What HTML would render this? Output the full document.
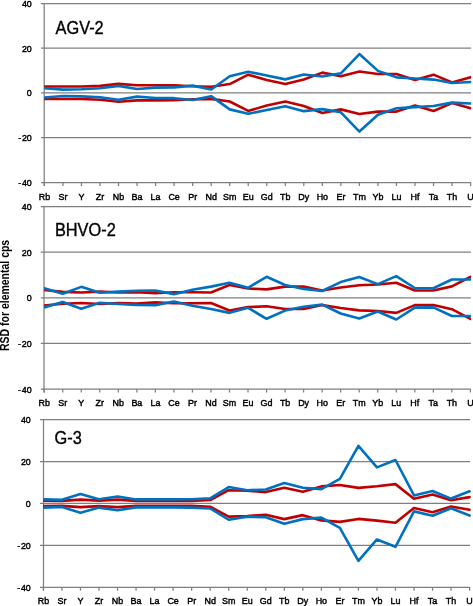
<!DOCTYPE html>
<html><head><meta charset="utf-8"><style>
html,body{margin:0;padding:0;background:#fff;}
body{width:473px;height:606px;overflow:hidden;}
svg{display:block;will-change:transform;}
text{font-family:"Liberation Sans",sans-serif;fill:#000;}
.yl{font-size:9.9px;text-anchor:end;stroke:#000;stroke-width:0.45px;}
.xl{font-size:9.6px;text-anchor:middle;stroke:#000;stroke-width:0.45px;}
.tt{font-size:17.6px;stroke:#000;stroke-width:0.35px;}
.ax{font-size:12.2px;font-weight:bold;}
</style></head><body>
<svg width="473" height="606" viewBox="0 0 473 606">
<rect width="473" height="606" fill="#fff"/>
<line x1="41.00" y1="3.50" x2="471.09" y2="3.50" stroke="#7f7f7f" stroke-width="1.25"/>
<text transform="translate(31.80,6.95) scale(0.9,1)" class="yl">40</text>
<line x1="41.00" y1="48.10" x2="471.09" y2="48.10" stroke="#7f7f7f" stroke-width="1.25"/>
<text transform="translate(31.80,51.55) scale(0.9,1)" class="yl">20</text>
<line x1="41.00" y1="92.80" x2="471.09" y2="92.80" stroke="#7f7f7f" stroke-width="1.25"/>
<text transform="translate(31.80,96.25) scale(0.9,1)" class="yl">0</text>
<line x1="41.00" y1="137.50" x2="471.09" y2="137.50" stroke="#7f7f7f" stroke-width="1.25"/>
<text transform="translate(31.80,140.95) scale(0.9,1)" class="yl">-<tspan dx="0.9">20</tspan></text>
<line x1="41.00" y1="182.60" x2="471.09" y2="182.60" stroke="#7f7f7f" stroke-width="1.25"/>
<text transform="translate(31.80,186.05) scale(0.9,1)" class="yl">-<tspan dx="0.9">40</tspan></text>
<line x1="44.20" y1="2.90" x2="44.20" y2="186.00" stroke="#7f7f7f" stroke-width="1.25"/>
<line x1="44.40" y1="182.60" x2="44.40" y2="186.00" stroke="#7f7f7f" stroke-width="1.25"/>
<text transform="translate(44.40,199.60) scale(0.93,1)" class="xl">Rb</text>
<line x1="62.93" y1="182.60" x2="62.93" y2="186.00" stroke="#7f7f7f" stroke-width="1.25"/>
<text transform="translate(62.93,199.60) scale(0.93,1)" class="xl">Sr</text>
<line x1="81.46" y1="182.60" x2="81.46" y2="186.00" stroke="#7f7f7f" stroke-width="1.25"/>
<text transform="translate(81.46,199.60) scale(0.93,1)" class="xl">Y</text>
<line x1="99.99" y1="182.60" x2="99.99" y2="186.00" stroke="#7f7f7f" stroke-width="1.25"/>
<text transform="translate(99.99,199.60) scale(0.93,1)" class="xl">Zr</text>
<line x1="118.52" y1="182.60" x2="118.52" y2="186.00" stroke="#7f7f7f" stroke-width="1.25"/>
<text transform="translate(118.52,199.60) scale(0.93,1)" class="xl">Nb</text>
<line x1="137.05" y1="182.60" x2="137.05" y2="186.00" stroke="#7f7f7f" stroke-width="1.25"/>
<text transform="translate(137.05,199.60) scale(0.93,1)" class="xl">Ba</text>
<line x1="155.58" y1="182.60" x2="155.58" y2="186.00" stroke="#7f7f7f" stroke-width="1.25"/>
<text transform="translate(155.58,199.60) scale(0.93,1)" class="xl">La</text>
<line x1="174.11" y1="182.60" x2="174.11" y2="186.00" stroke="#7f7f7f" stroke-width="1.25"/>
<text transform="translate(174.11,199.60) scale(0.93,1)" class="xl">Ce</text>
<line x1="192.64" y1="182.60" x2="192.64" y2="186.00" stroke="#7f7f7f" stroke-width="1.25"/>
<text transform="translate(192.64,199.60) scale(0.93,1)" class="xl">Pr</text>
<line x1="211.17" y1="182.60" x2="211.17" y2="186.00" stroke="#7f7f7f" stroke-width="1.25"/>
<text transform="translate(211.17,199.60) scale(0.93,1)" class="xl">Nd</text>
<line x1="229.70" y1="182.60" x2="229.70" y2="186.00" stroke="#7f7f7f" stroke-width="1.25"/>
<text transform="translate(229.70,199.60) scale(0.93,1)" class="xl">Sm</text>
<line x1="248.23" y1="182.60" x2="248.23" y2="186.00" stroke="#7f7f7f" stroke-width="1.25"/>
<text transform="translate(248.23,199.60) scale(0.93,1)" class="xl">Eu</text>
<line x1="266.76" y1="182.60" x2="266.76" y2="186.00" stroke="#7f7f7f" stroke-width="1.25"/>
<text transform="translate(266.76,199.60) scale(0.93,1)" class="xl">Gd</text>
<line x1="285.29" y1="182.60" x2="285.29" y2="186.00" stroke="#7f7f7f" stroke-width="1.25"/>
<text transform="translate(285.29,199.60) scale(0.93,1)" class="xl">Tb</text>
<line x1="303.82" y1="182.60" x2="303.82" y2="186.00" stroke="#7f7f7f" stroke-width="1.25"/>
<text transform="translate(303.82,199.60) scale(0.93,1)" class="xl">Dy</text>
<line x1="322.35" y1="182.60" x2="322.35" y2="186.00" stroke="#7f7f7f" stroke-width="1.25"/>
<text transform="translate(322.35,199.60) scale(0.93,1)" class="xl">Ho</text>
<line x1="340.88" y1="182.60" x2="340.88" y2="186.00" stroke="#7f7f7f" stroke-width="1.25"/>
<text transform="translate(340.88,199.60) scale(0.93,1)" class="xl">Er</text>
<line x1="359.41" y1="182.60" x2="359.41" y2="186.00" stroke="#7f7f7f" stroke-width="1.25"/>
<text transform="translate(359.41,199.60) scale(0.93,1)" class="xl">Tm</text>
<line x1="377.94" y1="182.60" x2="377.94" y2="186.00" stroke="#7f7f7f" stroke-width="1.25"/>
<text transform="translate(377.94,199.60) scale(0.93,1)" class="xl">Yb</text>
<line x1="396.47" y1="182.60" x2="396.47" y2="186.00" stroke="#7f7f7f" stroke-width="1.25"/>
<text transform="translate(396.47,199.60) scale(0.93,1)" class="xl">Lu</text>
<line x1="415.00" y1="182.60" x2="415.00" y2="186.00" stroke="#7f7f7f" stroke-width="1.25"/>
<text transform="translate(415.00,199.60) scale(0.93,1)" class="xl">Hf</text>
<line x1="433.53" y1="182.60" x2="433.53" y2="186.00" stroke="#7f7f7f" stroke-width="1.25"/>
<text transform="translate(433.53,199.60) scale(0.93,1)" class="xl">Ta</text>
<line x1="452.06" y1="182.60" x2="452.06" y2="186.00" stroke="#7f7f7f" stroke-width="1.25"/>
<text transform="translate(452.06,199.60) scale(0.93,1)" class="xl">Th</text>
<line x1="470.59" y1="182.60" x2="470.59" y2="186.00" stroke="#7f7f7f" stroke-width="1.25"/>
<text transform="translate(470.59,199.60) scale(0.93,1)" class="xl">U</text>
<text transform="translate(55.50,33.60) scale(0.93,1)" class="tt">AGV-2</text>
<clipPath id="c0"><rect x="44.20" y="-2.50" width="427.10" height="191.10"/></clipPath>
<g clip-path="url(#c0)">
<polyline points="44.40,86.53 62.93,86.53 81.46,86.53 99.99,85.86 118.52,83.84 137.05,85.19 155.58,85.19 174.11,85.41 192.64,86.31 211.17,86.76 229.70,84.07 248.23,74.67 266.76,80.04 285.29,84.07 303.82,79.59 322.35,72.65 340.88,76.23 359.41,71.53 377.94,73.99 396.47,73.99 415.00,80.04 433.53,74.67 452.06,82.50 470.59,77.35" fill="none" stroke="#C00000" stroke-width="2.6" stroke-linejoin="round" stroke-linecap="round"/>
<polyline points="44.40,99.07 62.93,99.07 81.46,99.07 99.99,99.74 118.52,101.75 137.05,100.41 155.58,100.41 174.11,100.19 192.64,99.29 211.17,98.84 229.70,101.53 248.23,110.93 266.76,105.56 285.29,101.53 303.82,106.01 322.35,112.95 340.88,109.37 359.41,114.07 377.94,111.61 396.47,111.61 415.00,105.56 433.53,110.93 452.06,103.10 470.59,108.25" fill="none" stroke="#C00000" stroke-width="2.6" stroke-linejoin="round" stroke-linecap="round"/>
<polyline points="44.40,88.10 62.93,89.67 81.46,89.22 99.99,88.32 118.52,85.86 137.05,88.99 155.58,87.65 174.11,87.43 192.64,85.64 211.17,89.44 229.70,76.23 248.23,71.76 266.76,75.56 285.29,79.37 303.82,74.44 322.35,76.46 340.88,73.32 359.41,54.07 377.94,70.86 396.47,77.35 415.00,78.47 433.53,79.59 452.06,82.95 470.59,82.05" fill="none" stroke="#0070C0" stroke-width="2.6" stroke-linejoin="round" stroke-linecap="round"/>
<polyline points="44.40,97.50 62.93,95.93 81.46,96.38 99.99,97.28 118.52,99.74 137.05,96.61 155.58,97.95 174.11,98.17 192.64,99.96 211.17,96.16 229.70,109.37 248.23,113.84 266.76,110.04 285.29,106.23 303.82,111.16 322.35,109.14 340.88,112.28 359.41,131.53 377.94,114.74 396.47,108.25 415.00,107.13 433.53,106.01 452.06,102.65 470.59,103.55" fill="none" stroke="#0070C0" stroke-width="2.6" stroke-linejoin="round" stroke-linecap="round"/>
</g>
<line x1="40.80" y1="206.60" x2="470.89" y2="206.60" stroke="#7f7f7f" stroke-width="1.25"/>
<text transform="translate(31.60,210.05) scale(0.9,1)" class="yl">40</text>
<line x1="40.80" y1="252.10" x2="470.89" y2="252.10" stroke="#7f7f7f" stroke-width="1.25"/>
<text transform="translate(31.60,255.55) scale(0.9,1)" class="yl">20</text>
<line x1="40.80" y1="297.80" x2="470.89" y2="297.80" stroke="#7f7f7f" stroke-width="1.25"/>
<text transform="translate(31.60,301.25) scale(0.9,1)" class="yl">0</text>
<line x1="40.80" y1="343.40" x2="470.89" y2="343.40" stroke="#7f7f7f" stroke-width="1.25"/>
<text transform="translate(31.60,346.85) scale(0.9,1)" class="yl">-<tspan dx="0.9">20</tspan></text>
<line x1="40.80" y1="389.10" x2="470.89" y2="389.10" stroke="#7f7f7f" stroke-width="1.25"/>
<text transform="translate(31.60,392.55) scale(0.9,1)" class="yl">-<tspan dx="0.9">40</tspan></text>
<line x1="44.00" y1="206.00" x2="44.00" y2="392.50" stroke="#7f7f7f" stroke-width="1.25"/>
<line x1="44.20" y1="389.10" x2="44.20" y2="392.50" stroke="#7f7f7f" stroke-width="1.25"/>
<text transform="translate(44.20,406.10) scale(0.93,1)" class="xl">Rb</text>
<line x1="62.73" y1="389.10" x2="62.73" y2="392.50" stroke="#7f7f7f" stroke-width="1.25"/>
<text transform="translate(62.73,406.10) scale(0.93,1)" class="xl">Sr</text>
<line x1="81.26" y1="389.10" x2="81.26" y2="392.50" stroke="#7f7f7f" stroke-width="1.25"/>
<text transform="translate(81.26,406.10) scale(0.93,1)" class="xl">Y</text>
<line x1="99.79" y1="389.10" x2="99.79" y2="392.50" stroke="#7f7f7f" stroke-width="1.25"/>
<text transform="translate(99.79,406.10) scale(0.93,1)" class="xl">Zr</text>
<line x1="118.32" y1="389.10" x2="118.32" y2="392.50" stroke="#7f7f7f" stroke-width="1.25"/>
<text transform="translate(118.32,406.10) scale(0.93,1)" class="xl">Nb</text>
<line x1="136.85" y1="389.10" x2="136.85" y2="392.50" stroke="#7f7f7f" stroke-width="1.25"/>
<text transform="translate(136.85,406.10) scale(0.93,1)" class="xl">Ba</text>
<line x1="155.38" y1="389.10" x2="155.38" y2="392.50" stroke="#7f7f7f" stroke-width="1.25"/>
<text transform="translate(155.38,406.10) scale(0.93,1)" class="xl">La</text>
<line x1="173.91" y1="389.10" x2="173.91" y2="392.50" stroke="#7f7f7f" stroke-width="1.25"/>
<text transform="translate(173.91,406.10) scale(0.93,1)" class="xl">Ce</text>
<line x1="192.44" y1="389.10" x2="192.44" y2="392.50" stroke="#7f7f7f" stroke-width="1.25"/>
<text transform="translate(192.44,406.10) scale(0.93,1)" class="xl">Pr</text>
<line x1="210.97" y1="389.10" x2="210.97" y2="392.50" stroke="#7f7f7f" stroke-width="1.25"/>
<text transform="translate(210.97,406.10) scale(0.93,1)" class="xl">Nd</text>
<line x1="229.50" y1="389.10" x2="229.50" y2="392.50" stroke="#7f7f7f" stroke-width="1.25"/>
<text transform="translate(229.50,406.10) scale(0.93,1)" class="xl">Sm</text>
<line x1="248.03" y1="389.10" x2="248.03" y2="392.50" stroke="#7f7f7f" stroke-width="1.25"/>
<text transform="translate(248.03,406.10) scale(0.93,1)" class="xl">Eu</text>
<line x1="266.56" y1="389.10" x2="266.56" y2="392.50" stroke="#7f7f7f" stroke-width="1.25"/>
<text transform="translate(266.56,406.10) scale(0.93,1)" class="xl">Gd</text>
<line x1="285.09" y1="389.10" x2="285.09" y2="392.50" stroke="#7f7f7f" stroke-width="1.25"/>
<text transform="translate(285.09,406.10) scale(0.93,1)" class="xl">Tb</text>
<line x1="303.62" y1="389.10" x2="303.62" y2="392.50" stroke="#7f7f7f" stroke-width="1.25"/>
<text transform="translate(303.62,406.10) scale(0.93,1)" class="xl">Dy</text>
<line x1="322.15" y1="389.10" x2="322.15" y2="392.50" stroke="#7f7f7f" stroke-width="1.25"/>
<text transform="translate(322.15,406.10) scale(0.93,1)" class="xl">Ho</text>
<line x1="340.68" y1="389.10" x2="340.68" y2="392.50" stroke="#7f7f7f" stroke-width="1.25"/>
<text transform="translate(340.68,406.10) scale(0.93,1)" class="xl">Er</text>
<line x1="359.21" y1="389.10" x2="359.21" y2="392.50" stroke="#7f7f7f" stroke-width="1.25"/>
<text transform="translate(359.21,406.10) scale(0.93,1)" class="xl">Tm</text>
<line x1="377.74" y1="389.10" x2="377.74" y2="392.50" stroke="#7f7f7f" stroke-width="1.25"/>
<text transform="translate(377.74,406.10) scale(0.93,1)" class="xl">Yb</text>
<line x1="396.27" y1="389.10" x2="396.27" y2="392.50" stroke="#7f7f7f" stroke-width="1.25"/>
<text transform="translate(396.27,406.10) scale(0.93,1)" class="xl">Lu</text>
<line x1="414.80" y1="389.10" x2="414.80" y2="392.50" stroke="#7f7f7f" stroke-width="1.25"/>
<text transform="translate(414.80,406.10) scale(0.93,1)" class="xl">Hf</text>
<line x1="433.33" y1="389.10" x2="433.33" y2="392.50" stroke="#7f7f7f" stroke-width="1.25"/>
<text transform="translate(433.33,406.10) scale(0.93,1)" class="xl">Ta</text>
<line x1="451.86" y1="389.10" x2="451.86" y2="392.50" stroke="#7f7f7f" stroke-width="1.25"/>
<text transform="translate(451.86,406.10) scale(0.93,1)" class="xl">Th</text>
<line x1="470.39" y1="389.10" x2="470.39" y2="392.50" stroke="#7f7f7f" stroke-width="1.25"/>
<text transform="translate(470.39,406.10) scale(0.93,1)" class="xl">U</text>
<text transform="translate(54.90,235.80) scale(0.93,1)" class="tt">BHVO-2</text>
<clipPath id="c1"><rect x="44.00" y="200.60" width="427.30" height="194.50"/></clipPath>
<g clip-path="url(#c1)">
<polyline points="44.20,290.04 62.73,291.87 81.26,292.55 99.79,291.64 118.32,292.55 136.85,292.10 155.38,293.24 173.91,292.32 192.44,292.32 210.97,292.55 229.50,285.03 248.03,288.45 266.56,289.36 285.09,286.62 303.62,286.62 322.15,290.50 340.68,287.53 359.21,285.25 377.74,284.57 396.27,282.74 414.80,290.50 433.33,290.50 451.86,286.39 470.39,276.81" fill="none" stroke="#C00000" stroke-width="2.6" stroke-linejoin="round" stroke-linecap="round"/>
<polyline points="44.20,305.56 62.73,303.73 81.26,303.05 99.79,303.96 118.32,303.05 136.85,303.50 155.38,302.36 173.91,303.28 192.44,303.28 210.97,303.05 229.50,310.57 248.03,307.15 266.56,306.24 285.09,308.98 303.62,308.98 322.15,305.10 340.68,308.07 359.21,310.35 377.74,311.03 396.27,312.86 414.80,305.10 433.33,305.10 451.86,309.21 470.39,318.79" fill="none" stroke="#C00000" stroke-width="2.6" stroke-linejoin="round" stroke-linecap="round"/>
<polyline points="44.20,288.22 62.73,293.69 81.26,286.85 99.79,292.78 118.32,291.64 136.85,290.73 155.38,290.50 173.91,294.15 192.44,289.82 210.97,286.62 229.50,282.74 248.03,287.76 266.56,276.81 285.09,285.03 303.62,288.90 322.15,290.96 340.68,282.06 359.21,277.04 377.74,284.11 396.27,276.13 414.80,287.99 433.33,288.22 451.86,279.55 470.39,279.55" fill="none" stroke="#0070C0" stroke-width="2.6" stroke-linejoin="round" stroke-linecap="round"/>
<polyline points="44.20,307.38 62.73,301.91 81.26,308.75 99.79,302.82 118.32,303.96 136.85,304.87 155.38,305.10 173.91,301.45 192.44,305.78 210.97,308.98 229.50,312.86 248.03,307.84 266.56,318.79 285.09,310.57 303.62,306.70 322.15,304.64 340.68,313.54 359.21,318.56 377.74,311.49 396.27,319.47 414.80,307.61 433.33,307.38 451.86,316.05 470.39,316.05" fill="none" stroke="#0070C0" stroke-width="2.6" stroke-linejoin="round" stroke-linecap="round"/>
</g>
<line x1="40.00" y1="419.60" x2="470.09" y2="419.60" stroke="#7f7f7f" stroke-width="1.25"/>
<text transform="translate(30.80,423.05) scale(0.9,1)" class="yl">40</text>
<line x1="40.00" y1="461.50" x2="470.09" y2="461.50" stroke="#7f7f7f" stroke-width="1.25"/>
<text transform="translate(30.80,464.95) scale(0.9,1)" class="yl">20</text>
<line x1="40.00" y1="503.40" x2="470.09" y2="503.40" stroke="#7f7f7f" stroke-width="1.25"/>
<text transform="translate(30.80,506.85) scale(0.9,1)" class="yl">0</text>
<line x1="40.00" y1="545.40" x2="470.09" y2="545.40" stroke="#7f7f7f" stroke-width="1.25"/>
<text transform="translate(30.80,548.85) scale(0.9,1)" class="yl">-<tspan dx="0.9">20</tspan></text>
<line x1="40.00" y1="587.30" x2="470.09" y2="587.30" stroke="#7f7f7f" stroke-width="1.25"/>
<text transform="translate(30.80,590.75) scale(0.9,1)" class="yl">-<tspan dx="0.9">40</tspan></text>
<line x1="43.50" y1="419.00" x2="43.50" y2="590.70" stroke="#7f7f7f" stroke-width="1.25"/>
<line x1="43.40" y1="587.30" x2="43.40" y2="590.70" stroke="#7f7f7f" stroke-width="1.25"/>
<text transform="translate(43.40,604.30) scale(0.93,1)" class="xl">Rb</text>
<line x1="61.93" y1="587.30" x2="61.93" y2="590.70" stroke="#7f7f7f" stroke-width="1.25"/>
<text transform="translate(61.93,604.30) scale(0.93,1)" class="xl">Sr</text>
<line x1="80.46" y1="587.30" x2="80.46" y2="590.70" stroke="#7f7f7f" stroke-width="1.25"/>
<text transform="translate(80.46,604.30) scale(0.93,1)" class="xl">Y</text>
<line x1="98.99" y1="587.30" x2="98.99" y2="590.70" stroke="#7f7f7f" stroke-width="1.25"/>
<text transform="translate(98.99,604.30) scale(0.93,1)" class="xl">Zr</text>
<line x1="117.52" y1="587.30" x2="117.52" y2="590.70" stroke="#7f7f7f" stroke-width="1.25"/>
<text transform="translate(117.52,604.30) scale(0.93,1)" class="xl">Nb</text>
<line x1="136.05" y1="587.30" x2="136.05" y2="590.70" stroke="#7f7f7f" stroke-width="1.25"/>
<text transform="translate(136.05,604.30) scale(0.93,1)" class="xl">Ba</text>
<line x1="154.58" y1="587.30" x2="154.58" y2="590.70" stroke="#7f7f7f" stroke-width="1.25"/>
<text transform="translate(154.58,604.30) scale(0.93,1)" class="xl">La</text>
<line x1="173.11" y1="587.30" x2="173.11" y2="590.70" stroke="#7f7f7f" stroke-width="1.25"/>
<text transform="translate(173.11,604.30) scale(0.93,1)" class="xl">Ce</text>
<line x1="191.64" y1="587.30" x2="191.64" y2="590.70" stroke="#7f7f7f" stroke-width="1.25"/>
<text transform="translate(191.64,604.30) scale(0.93,1)" class="xl">Pr</text>
<line x1="210.17" y1="587.30" x2="210.17" y2="590.70" stroke="#7f7f7f" stroke-width="1.25"/>
<text transform="translate(210.17,604.30) scale(0.93,1)" class="xl">Nd</text>
<line x1="228.70" y1="587.30" x2="228.70" y2="590.70" stroke="#7f7f7f" stroke-width="1.25"/>
<text transform="translate(228.70,604.30) scale(0.93,1)" class="xl">Sm</text>
<line x1="247.23" y1="587.30" x2="247.23" y2="590.70" stroke="#7f7f7f" stroke-width="1.25"/>
<text transform="translate(247.23,604.30) scale(0.93,1)" class="xl">Eu</text>
<line x1="265.76" y1="587.30" x2="265.76" y2="590.70" stroke="#7f7f7f" stroke-width="1.25"/>
<text transform="translate(265.76,604.30) scale(0.93,1)" class="xl">Gd</text>
<line x1="284.29" y1="587.30" x2="284.29" y2="590.70" stroke="#7f7f7f" stroke-width="1.25"/>
<text transform="translate(284.29,604.30) scale(0.93,1)" class="xl">Tb</text>
<line x1="302.82" y1="587.30" x2="302.82" y2="590.70" stroke="#7f7f7f" stroke-width="1.25"/>
<text transform="translate(302.82,604.30) scale(0.93,1)" class="xl">Dy</text>
<line x1="321.35" y1="587.30" x2="321.35" y2="590.70" stroke="#7f7f7f" stroke-width="1.25"/>
<text transform="translate(321.35,604.30) scale(0.93,1)" class="xl">Ho</text>
<line x1="339.88" y1="587.30" x2="339.88" y2="590.70" stroke="#7f7f7f" stroke-width="1.25"/>
<text transform="translate(339.88,604.30) scale(0.93,1)" class="xl">Er</text>
<line x1="358.41" y1="587.30" x2="358.41" y2="590.70" stroke="#7f7f7f" stroke-width="1.25"/>
<text transform="translate(358.41,604.30) scale(0.93,1)" class="xl">Tm</text>
<line x1="376.94" y1="587.30" x2="376.94" y2="590.70" stroke="#7f7f7f" stroke-width="1.25"/>
<text transform="translate(376.94,604.30) scale(0.93,1)" class="xl">Yb</text>
<line x1="395.47" y1="587.30" x2="395.47" y2="590.70" stroke="#7f7f7f" stroke-width="1.25"/>
<text transform="translate(395.47,604.30) scale(0.93,1)" class="xl">Lu</text>
<line x1="414.00" y1="587.30" x2="414.00" y2="590.70" stroke="#7f7f7f" stroke-width="1.25"/>
<text transform="translate(414.00,604.30) scale(0.93,1)" class="xl">Hf</text>
<line x1="432.53" y1="587.30" x2="432.53" y2="590.70" stroke="#7f7f7f" stroke-width="1.25"/>
<text transform="translate(432.53,604.30) scale(0.93,1)" class="xl">Ta</text>
<line x1="451.06" y1="587.30" x2="451.06" y2="590.70" stroke="#7f7f7f" stroke-width="1.25"/>
<text transform="translate(451.06,604.30) scale(0.93,1)" class="xl">Th</text>
<line x1="469.59" y1="587.30" x2="469.59" y2="590.70" stroke="#7f7f7f" stroke-width="1.25"/>
<text transform="translate(469.59,604.30) scale(0.93,1)" class="xl">U</text>
<text transform="translate(54.60,444.30) scale(0.93,1)" class="tt">G-3</text>
<clipPath id="c2"><rect x="43.20" y="413.60" width="428.10" height="179.70"/></clipPath>
<g clip-path="url(#c2)">
<polyline points="43.40,500.67 61.93,500.88 80.46,499.63 98.99,500.67 117.52,499.63 136.05,500.88 154.58,500.88 173.11,500.88 191.64,500.88 210.17,500.05 228.70,490.19 247.23,490.82 265.76,492.08 284.29,487.68 302.82,491.66 321.35,486.42 339.88,484.95 358.41,487.89 376.94,486.21 395.47,484.11 414.00,498.79 432.53,494.60 451.06,500.26 469.59,497.11" fill="none" stroke="#C00000" stroke-width="2.6" stroke-linejoin="round" stroke-linecap="round"/>
<polyline points="43.40,506.13 61.93,505.92 80.46,507.17 98.99,506.13 117.52,507.17 136.05,505.92 154.58,505.92 173.11,505.92 191.64,505.92 210.17,506.75 228.70,516.61 247.23,515.98 265.76,514.72 284.29,519.12 302.82,515.14 321.35,520.38 339.88,521.85 358.41,518.91 376.94,520.59 395.47,522.69 414.00,508.01 432.53,512.20 451.06,506.54 469.59,509.69" fill="none" stroke="#C00000" stroke-width="2.6" stroke-linejoin="round" stroke-linecap="round"/>
<polyline points="43.40,499.21 61.93,499.84 80.46,493.97 98.99,499.21 117.52,496.48 136.05,499.42 154.58,499.42 173.11,499.42 191.64,499.21 210.17,498.37 228.70,487.05 247.23,490.19 265.76,489.56 284.29,483.07 302.82,487.68 321.35,489.15 339.88,478.87 358.41,445.96 376.94,467.34 395.47,460.01 414.00,495.43 432.53,491.03 451.06,498.58 469.59,491.24" fill="none" stroke="#0070C0" stroke-width="2.6" stroke-linejoin="round" stroke-linecap="round"/>
<polyline points="43.40,507.59 61.93,506.96 80.46,512.83 98.99,507.59 117.52,510.32 136.05,507.38 154.58,507.38 173.11,507.38 191.64,507.59 210.17,508.43 228.70,519.75 247.23,516.61 265.76,517.24 284.29,523.73 302.82,519.12 321.35,517.65 339.88,527.93 358.41,560.84 376.94,539.46 395.47,546.79 414.00,511.37 432.53,515.77 451.06,508.22 469.59,515.56" fill="none" stroke="#0070C0" stroke-width="2.6" stroke-linejoin="round" stroke-linecap="round"/>
</g>
<text class="ax" transform="translate(8.6,295.4) rotate(-90) scale(0.86,1)" text-anchor="middle">RSD for elemental cps</text>
</svg>
</body></html>
